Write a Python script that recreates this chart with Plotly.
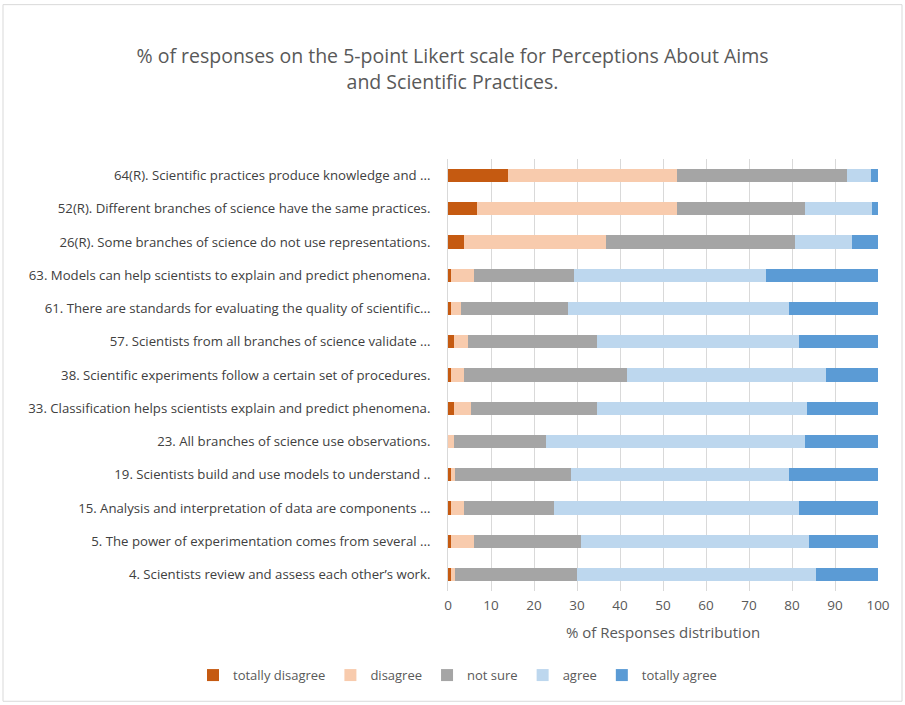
import plotly.graph_objects as go

categories = [
    "64(R). Scientific practices produce knowledge and ...",
    "52(R). Different branches of science have the same practices.",
    "26(R). Some branches of science do not use representations.",
    "63. Models can help scientists to explain and predict phenomena.",
    "61. There are standards for evaluating the quality of scientific...",
    "57. Scientists from all branches of science validate ...",
    "38. Scientific experiments follow a certain set of procedures.",
    "33. Classification helps scientists explain and predict phenomena.",
    "23. All branches of science use observations.",
    "19. Scientists build and use models to understand ..",
    "15. Analysis and interpretation of data are components ...",
    "5. The power of experimentation comes from several ...",
    "4. Scientists review and assess each other\u2019s work.",
]
totally_disagree = [13.9, 6.8, 3.8, 0.7, 0.7, 1.4, 0.7, 1.5, 0.0, 0.6, 0.7, 0.7, 0.7]
disagree = [39.3, 46.4, 33.0, 5.3, 2.3, 3.2, 3.1, 3.8, 1.5, 1.0, 3.0, 5.3, 0.9]
not_sure = [39.7, 29.9, 44.0, 23.3, 24.8, 30.0, 37.9, 29.3, 21.4, 26.9, 21.0, 24.9, 28.5]
agree = [5.5, 15.5, 13.2, 44.7, 51.4, 47.0, 46.2, 49.0, 60.2, 50.9, 57.0, 53.0, 55.5]
totally_agree = [1.6, 1.4, 6.0, 26.0, 20.8, 18.4, 12.1, 16.4, 16.9, 20.6, 18.3, 16.1, 14.4]

series = [
    ("totally disagree", totally_disagree, "#C55A11"),
    ("disagree", disagree, "#F8CBAD"),
    ("not sure", not_sure, "#A5A5A5"),
    ("agree", agree, "#BDD7EE"),
    ("totally agree", totally_agree, "#5B9BD5"),
]

font_family = "Open Sans, Liberation Sans, sans-serif"
text_color = "#595959"

fig = go.Figure()
for name, vals, color in series:
    fig.add_trace(go.Bar(
        y=categories, x=vals, name=name, orientation="h",
        marker=dict(color=color, line=dict(width=0)),
    ))

fig.update_layout(
    barmode="stack",
    bargap=0.6,
    width=905, height=705,
    paper_bgcolor="white", plot_bgcolor="white",
    margin=dict(l=448, r=27, t=159, b=114),
    font=dict(family=font_family, color=text_color, size=12),
    title=dict(
        text="% of responses on the 5-point Likert scale for Perceptions About Aims<br>and Scientific Practices.",
        x=0.5, xref="container", xanchor="center",
        y=0.91, yanchor="middle", yref="container",
        font=dict(size=19.5, color=text_color, family=font_family),
    ),
    showlegend=True,
    legend=dict(
        orientation="h", x=-0.593, xanchor="left", xref="paper",
        y=-0.160, yanchor="top", yref="paper",
        font=dict(size=13, color=text_color),
        traceorder="normal",
        itemwidth=30,
    ),
    xaxis=dict(
        range=[0, 100], dtick=10, tick0=0, automargin=False,
        showgrid=True, gridcolor="#D9D9D9", gridwidth=1,
        zeroline=False, showline=False,
        ticks="", ticklabelstandoff=4, tickfont=dict(size=13.5, color=text_color),
        title=dict(text="% of Responses distribution", font=dict(size=15, color=text_color), standoff=14),
    ),
    yaxis=dict(
        autorange="reversed", automargin=False,
        showgrid=False, zeroline=False,
        showline=True, linecolor="#D9D9D9",
        ticks="", ticklabelstandoff=14,
        tickfont=dict(size=13.2, color="#404040"),
    ),
    shapes=[dict(
        type="rect", xref="paper", yref="paper",
        x0=-445/430, x1=1 + 24/430, y0=-110/431, y1=1 + 154/431,
        line=dict(color="#D9D9D9", width=1), fillcolor="rgba(0,0,0,0)",
    )],
)

fig.write_html("out.html")
